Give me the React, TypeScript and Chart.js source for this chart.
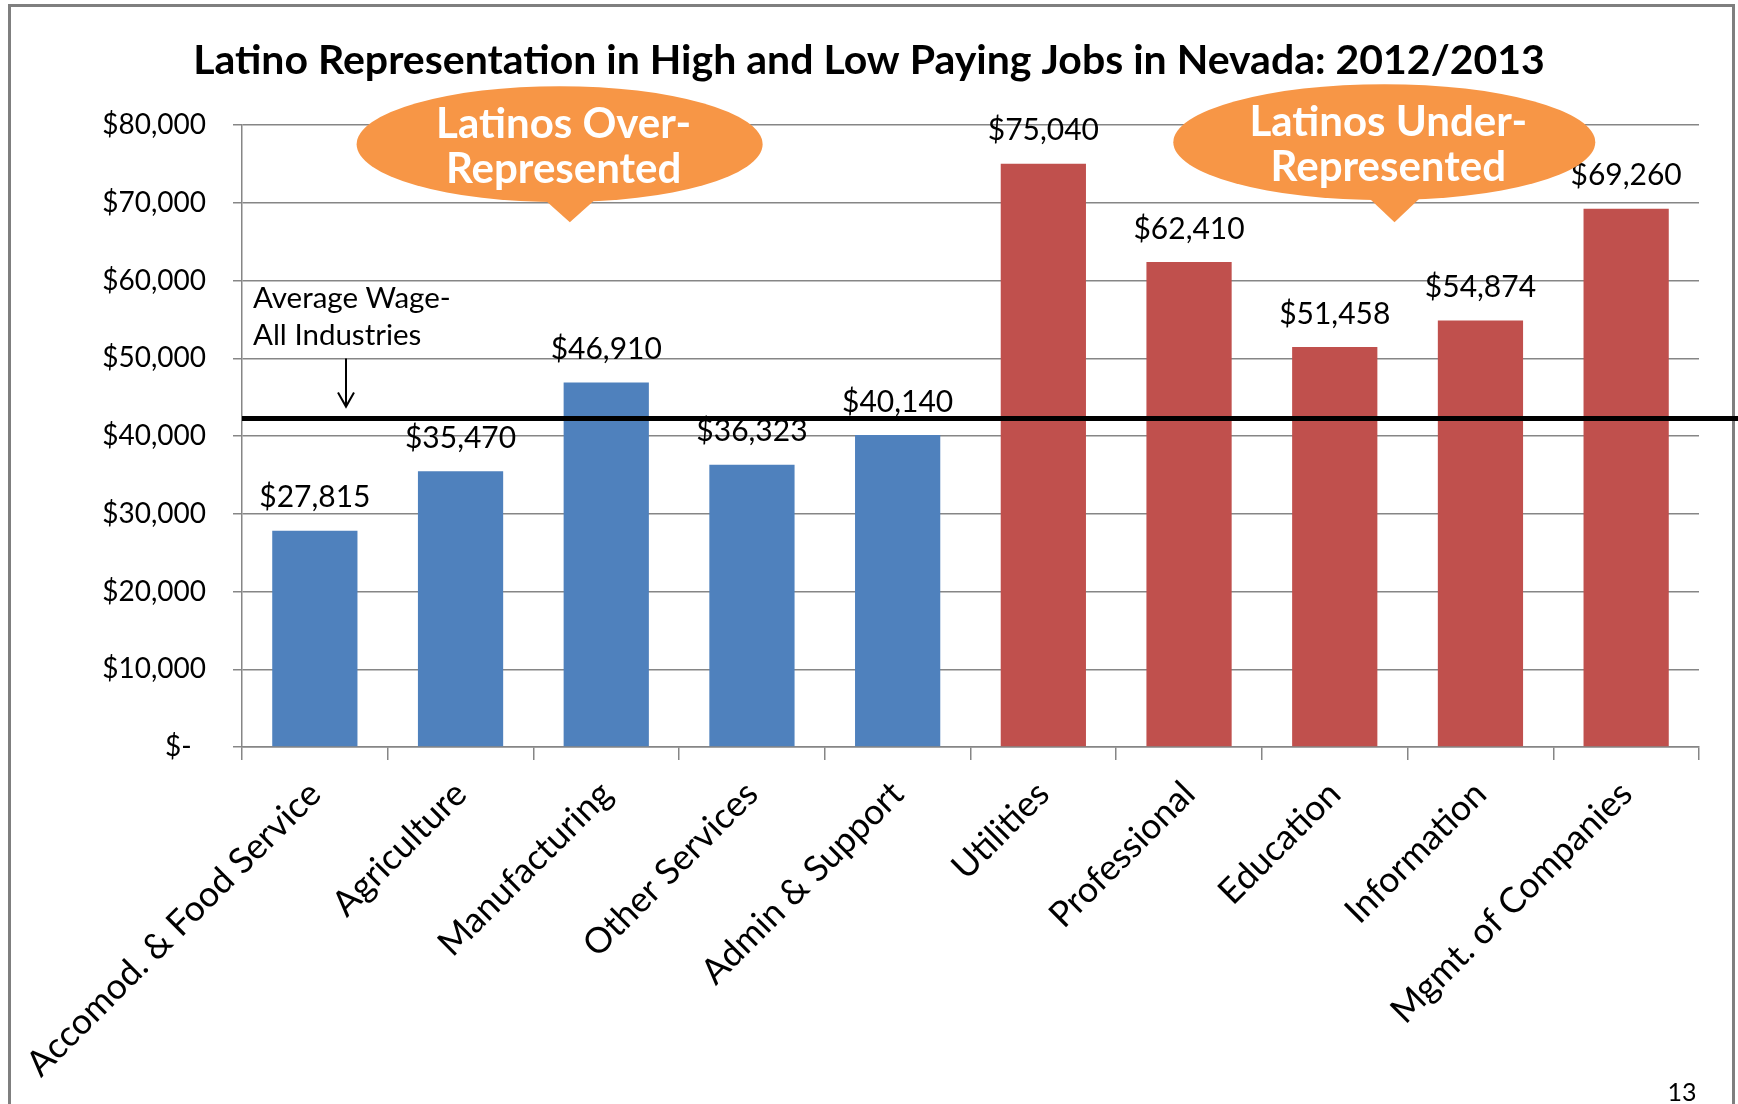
import React, { useEffect, useRef } from "react";
import { Chart, registerables } from "chart.js";

Chart.register(...registerables);

const FONT = "Lato, 'Open Sans', sans-serif";

const titleText = "Latino Representation in High and Low Paying Jobs in Nevada: 2012/2013";
const categories = [
  "Accomod. & Food Service",
  "Agriculture",
  "Manufacturing",
  "Other Services",
  "Admin & Support",
  "Utilities",
  "Professional",
  "Education",
  "Information",
  "Mgmt. of Companies",
];
const wages = [27815, 35470, 46910, 36323, 40140, 75040, 62410, 51458, 54874, 69260];
const groups = ["over", "over", "over", "over", "over", "under", "under", "under", "under", "under"];
const groupColors: Record<string, string> = { over: "#4F81BD", under: "#C0504D" };
const yMin = 0;
const yMax = 80000;
const yStep = 10000;
const averageWage = 42250;
const averageLabel = ["Average Wage-", "All Industries"];
const calloutOver = ["Latinos Over-", "Represented"];
const calloutUnder = ["Latinos Under-", "Represented"];
const pageNumber = "13";

const money = (v: number) => "$" + v.toLocaleString("en-US");

function drawCallout(ctx: CanvasRenderingContext2D, cx: number, cy: number, rx: number, ry: number, tipX: number, tipY: number, lines: string[]) {
  ctx.save();
  ctx.fillStyle = "#F79646";
  ctx.beginPath();
  ctx.ellipse(cx, cy, rx, ry, 0, 0, Math.PI * 2);
  ctx.fill();
  ctx.beginPath();
  ctx.moveTo(tipX - 38, cy + ry - 14);
  ctx.lineTo(tipX + 38, cy + ry - 14);
  ctx.lineTo(tipX, tipY);
  ctx.closePath();
  ctx.fill();
  ctx.fillStyle = "#FFFFFF";
  ctx.font = `bold 42px ${FONT}`;
  ctx.textAlign = "center";
  ctx.textBaseline = "middle";
  ctx.fillText(lines[0], cx + 4, cy - 20);
  ctx.fillText(lines[1], cx + 4, cy + 25);
  ctx.restore();
}

const annotationPlugin = {
  id: "annotations",
  afterDatasetsDraw(chart: any) {
    const { ctx, chartArea, scales } = chart;
    const xs = scales.x;
    const ys = scales.y;
    const meta = chart.getDatasetMeta(0);
    ctx.save();

    // value labels
    ctx.font = `30px ${FONT}`;
    ctx.fillStyle = "#000";
    ctx.textAlign = "center";
    ctx.textBaseline = "middle";
    meta.data.forEach((bar: any, i: number) => {
      ctx.fillText(money(wages[i]), bar.x, bar.y - 33);
    });

    // average line
    const ay = ys.getPixelForValue(averageWage);
    ctx.strokeStyle = "#000";
    ctx.lineWidth = 5;
    ctx.beginPath();
    ctx.moveTo(chartArea.left, ay);
    ctx.lineTo(chart.width, ay);
    ctx.stroke();

    // average label + arrow
    ctx.font = `29.5px ${FONT}`;
    ctx.textAlign = "left";
    ctx.fillText(averageLabel[0], chartArea.left + 11, ay - 120);
    ctx.fillText(averageLabel[1], chartArea.left + 11, ay - 83);
    const axp = chartArea.left + 104;
    ctx.lineWidth = 2;
    ctx.beginPath();
    ctx.moveTo(axp, ay - 60);
    ctx.lineTo(axp, ay - 12);
    ctx.moveTo(axp - 8, ay - 26);
    ctx.lineTo(axp, ay - 12);
    ctx.lineTo(axp + 8, ay - 26);
    ctx.stroke();

    // callouts
    drawCallout(ctx, xs.getPixelForValue(1.68), chartArea.top + 19, 203, 58, xs.getPixelForValue(1.75), chartArea.top + 97, calloutOver);
    drawCallout(ctx, xs.getPixelForValue(7.34), chartArea.top + 17, 211, 58, xs.getPixelForValue(7.41), chartArea.top + 97, calloutUnder);

    // page number
    ctx.fillStyle = "#000";
    ctx.font = `25px ${FONT}`;
    ctx.textAlign = "center";
    ctx.textBaseline = "middle";
    ctx.fillText(pageNumber, 1682, 1093);
    ctx.restore();
  },
};

export default function App() {
  const canvasRef = useRef<HTMLCanvasElement | null>(null);

  useEffect(() => {
    if (!canvasRef.current) return;
    const chart = new Chart(canvasRef.current, {
      type: "bar",
      data: {
        labels: categories,
        datasets: [
          {
            data: wages,
            backgroundColor: groups.map((g) => groupColors[g]),
            barPercentage: 0.585,
            categoryPercentage: 1,
          },
        ],
      },
      options: {
        responsive: false,
        animation: false,
        devicePixelRatio: 1,
        layout: { padding: 0 },
        plugins: {
          legend: { display: false },
          tooltip: { enabled: false },
          title: {
            display: true,
            text: titleText,
            color: "#000",
            font: { family: FONT, size: 41, weight: "bold" },
            padding: { top: 36, bottom: 40 },
          },
        },
        scales: {
          x: {
            afterFit: (scale: any) => {
              scale.height = 357;
            },
            grid: {
              offset: true,
              drawOnChartArea: false,
              drawTicks: true,
              tickLength: 13,
              color: "#868686",
              lineWidth: 1.5,
            },
            border: { color: "#868686", width: 1.5 },
            ticks: {
              autoSkip: false,
              minRotation: 45,
              maxRotation: 45,
              color: "#000",
              padding: 13,
              font: { family: FONT, size: 35.5 },
            },
          },
          y: {
            min: yMin,
            max: yMax,
            afterFit: (scale: any) => {
              scale.width = 242;
            },
            grid: { color: "#868686", lineWidth: 1.5, tickLength: 9 },
            border: { color: "#868686", width: 1.5 },
            ticks: {
              stepSize: yStep,
              padding: 27,
              color: "#000",
              font: { family: FONT, size: 28 },
              callback: (v: any) => (Number(v) === 0 ? "$-  " : money(Number(v))),
            },
          },
          yRightSpacer: {
            position: "right",
            min: yMin,
            max: yMax,
            afterFit: (scale: any) => {
              scale.width = 39;
            },
            grid: { display: false, drawTicks: false },
            border: { display: false },
            ticks: { display: false },
          },
        },
      },
      plugins: [annotationPlugin],
    });
    return () => chart.destroy();
  }, []);

  return (
    <div style={{ position: "fixed", left: 0, top: 0, width: 1738, height: 1104, background: "#fff", overflow: "hidden" }}>
      <div
        style={{
          position: "absolute",
          left: 8,
          top: 4,
          width: 1721,
          height: 1200,
          border: "3px solid #7f7f7f",
        }}
      />
      <canvas ref={canvasRef} width={1738} height={1104} style={{ position: "absolute", left: 0, top: 0 }} />
    </div>
  );
}
